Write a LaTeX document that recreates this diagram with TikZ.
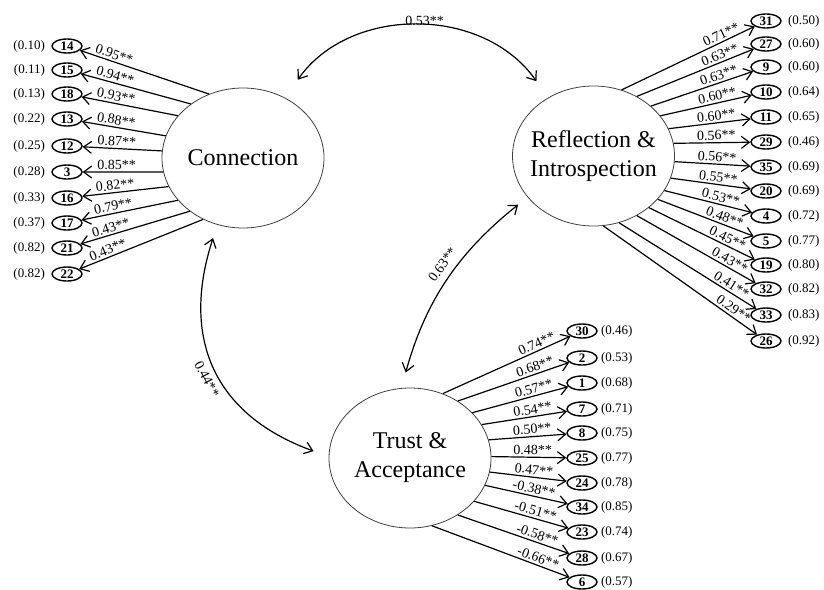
\documentclass[tikz,border=0pt]{standalone}
\usepackage{fontspec}
\setmainfont{Liberation Serif}
\usetikzlibrary{arrows.meta,positioning,shapes.geometric}

\begin{document}
\begin{tikzpicture}[x=0.5pt, y=-0.5pt, >={Straight Barb[length=4pt,width=6pt]},
	latent/.style={draw=black!75, ellipse, minimum width=81pt, minimum height=70pt, inner xsep=-4pt, inner ysep=0pt, align=center, font=\fontsize{12}{14.5}\selectfont},
	ind/.style={draw, line width=0.7pt, ellipse, minimum width=15pt, minimum height=7pt, inner xsep=0.5pt, inner ysep=0pt, font=\fontsize{6.5}{7}\selectfont\bfseries},
	var/.style={inner sep=0pt, font=\fontsize{6.5}{7}\selectfont},
	coef/.style={sloped, pos=1, inner xsep=7pt, inner ysep=1pt, font=\fontsize{7}{8}\selectfont},
	coefl/.style={coef, anchor=south west},
	coefr/.style={coef, anchor=south east},
	covlab/.style={inner sep=1pt, font=\fontsize{7}{8}\selectfont},
	load/.style={->, line width=0.6pt},
	cov/.style={<->, line width=0.6pt}]
	\useasboundingbox (0,0) rectangle (824,589);

	% latent factors
	\node[latent] (conn) at (243,158) {Connection};
	\node[latent] (refl) at (593.5,156) {Reflection \&\\Introspection};
	\node[latent] (trust) at (410,458) {Trust \&\\Acceptance};

	% items of Connection
	\foreach \idx/\ypos/\err/\ang/\lam in {14/46/0.10/118/0.95, 15/70/0.11/134/0.94, 18/94/0.13/147/0.93, 13/119/0.22/164/0.88, 12/146/0.25/175/0.87, 3/172/0.28/190/0.85, 16/198/0.33/201/0.82, 17/223/0.37/213/0.79, 21/248/0.82/225/0.43, 22/274/0.82/237/0.43}{
		\node[ind] (i\idx) at (67,\ypos) {\idx};
		\node[var] (e\idx) [left=3pt of i\idx] {(\err)};
		\path[load] (conn.\ang) edge node[coefl] (l\idx) {\lam**} (i\idx);
	}

	% items of Reflection & Introspection
	\foreach \idx/\ypos/\err/\ang/\lam in {31/21/0.50/67/0.71, 27/44/0.60/54/0.63, 9/67/0.60/41/0.63, 10/92/0.64/31/0.60, 11/117/0.65/20/0.60, 29/142/0.46/9/0.56, 35/167/0.69/-4/0.56, 20/191/0.69/-16/0.55, 4/216/0.72/-26/0.53, 5/241/0.77/-34/0.48, 19/265/0.80/-43/0.45, 32/289/0.82/-54/0.43, 33/315/0.83/-69/0.41, 26/341/0.92/-82/0.29}{
		\node[ind] (i\idx) at (766,\ypos) {\idx};
		\node[var] (e\idx) [right=3pt of i\idx] {(\err)};
		\path[load] (refl.\ang) edge node[coefr] (l\idx) {\lam**} (i\idx);
	}

	% items of Trust & Acceptance
	\foreach \idx/\ypos/\err/\ang/\lam in {30/331/0.46/63/0.74, 2/358/0.53/50/0.68, 1/383/0.68/36/0.57, 7/409/0.71/25/0.54, 8/433/0.75/13/0.50, 25/458/0.77/1/0.48, 24/483/0.78/-10/0.47, 34/507/0.85/-20/-0.38, 23/532/0.74/-34/-0.51, 28/558/0.67/-50/-0.58, 6/582/0.57/-72/-0.66}{
		\node[ind] (i\idx) at (582,\ypos) {\idx};
		\node[var] (e\idx) [right=1.5pt of i\idx] {(\err)};
		\path[load] (trust.\ang) edge node[coefr] (l\idx) {\lam**} (i\idx);
	}

	% covariances
	\draw[cov, shorten <=11pt, shorten >=10pt] (conn.55) to[out=55, in=125, looseness=1.1] node[covlab, above, xshift=4pt] (r12) {0.53**} (refl.128);
	\draw[cov, shorten <=7pt, shorten >=8pt] (conn.249) to[out=252, in=160, looseness=1.2] node[covlab, below=3pt, sloped, pos=0.52] (r13) {0.44**} (trust.179);
	\draw[cov, shorten <=6pt, shorten >=8pt] (refl.212) to[bend right=18] node[covlab, above=3pt, sloped, pos=0.45] (r23) {0.63**} (trust.97);
\end{tikzpicture}
\end{document}
